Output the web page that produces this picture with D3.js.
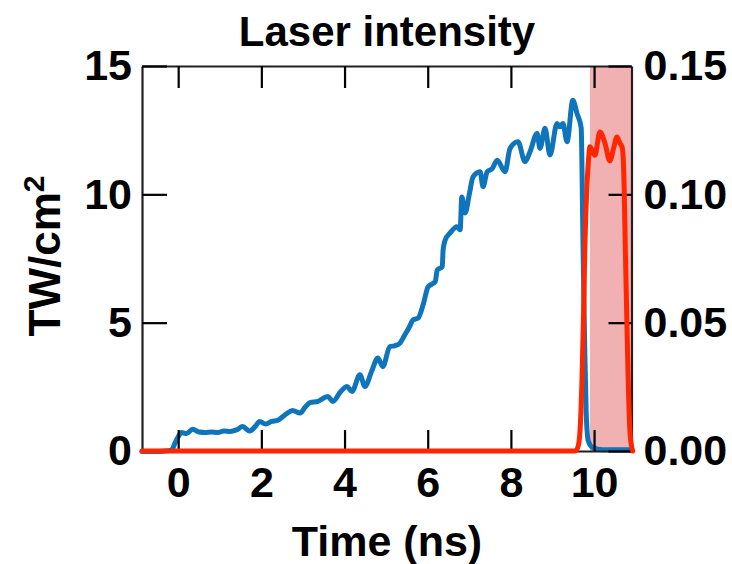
<!DOCTYPE html>
<html>
<head>
<meta charset="utf-8">
<script src="https://cdn.jsdelivr.net/npm/d3@7"></script>
<style>
  html, body { margin: 0; padding: 0; background: #fff; }
  svg { display: block; font-family: "Liberation Sans", Arial, Helvetica, sans-serif; font-weight: bold; }
</style>
</head>
<body>
<svg id="chart" width="732" height="564"></svg>
<script>
// Laser pulse intensity (TW/cm^2, left axis) versus time in ns
const blueT = [-0.87, -0.6, -0.3, -0.15, -0.08, 0.0, 0.08, 0.2, 0.35, 0.5, 0.65, 0.8, 0.95, 1.1, 1.25, 1.4, 1.55, 1.72, 1.85, 1.96,
  2.1, 2.25, 2.4, 2.6, 2.75, 2.93, 3.05, 3.17, 3.36, 3.48, 3.6, 3.72, 3.9, 4.06, 4.18, 4.37, 4.49, 4.65, 4.8, 4.92,
  5.09, 5.2, 5.33, 5.45, 5.55, 5.65, 5.77, 5.9, 6.01, 6.1, 6.18, 6.23, 6.35, 6.37, 6.42, 6.54, 6.7, 6.78, 6.82, 6.9,
  7.0, 7.09, 7.26, 7.33, 7.43, 7.55, 7.67, 7.86, 7.98, 8.17, 8.34, 8.46, 8.63, 8.7, 8.82, 8.94, 9.11, 9.18, 9.25, 9.35,
  9.49, 9.59, 9.69, 9.73, 9.77, 9.81, 9.86, 9.97, 10.2, 10.5, 10.9];
const blueV = [-0.02, -0.02, 0.0, 0.05, 0.3, 0.55, 0.72, 0.68, 0.85, 0.74, 0.72, 0.74, 0.72, 0.78, 0.76, 0.82, 0.95, 0.78, 0.95, 1.15,
  1.05, 1.15, 1.2, 1.45, 1.58, 1.48, 1.7, 1.88, 1.93, 2.05, 2.12, 1.93, 2.3, 2.51, 2.32, 2.97, 2.51, 3.1, 3.62, 3.29,
  4.07, 4.1, 4.2, 4.53, 4.8, 5.11, 5.18, 5.76, 6.4, 6.5, 6.6, 7.05, 7.18, 7.83, 8.22, 8.5, 8.74, 8.62, 9.9, 9.27,
  10.0, 10.68, 10.88, 10.3, 10.88, 11.0, 11.33, 10.88, 11.79, 12.05, 11.27, 11.66, 12.37, 11.79, 12.57, 11.53, 12.76, 12.63, 12.76, 12.05,
  13.67, 13.15, 12.6, 8.5, 4.5, 1.5, 0.4, 0.13, 0.05, 0.05, 0.05];

// Second pulse (right axis) versus time in ns
const redT = [-0.87, 1.0, 3.0, 5.0, 7.0, 9.0, 9.55, 9.62, 9.67, 9.71, 9.75, 9.78, 9.82, 9.86, 9.9, 10.02, 10.14, 10.26, 10.38,
  10.47, 10.55, 10.62, 10.68, 10.72, 10.75, 10.79, 10.82, 10.87, 10.93];
const redV = [0, 0, 0, 0, 0, 0, 0, 0.002, 0.01, 0.028, 0.055, 0.08, 0.1, 0.112, 0.1185, 0.1152, 0.1243, 0.12, 0.113,
  0.118, 0.1223, 0.12, 0.118, 0.105, 0.08, 0.05, 0.028, 0.006, 0];

// Shaded time window (ns)
const bandRange = [9.9, 10.9];

// Axis ticks
const xTicks = [0, 2, 4, 6, 8, 10];
const yLeftTicks = [0, 5, 10, 15];
const yRightTicks = [0, 0.05, 0.10, 0.15];

const svg = d3.select("#chart");

const x = d3.scaleLinear().domain([-0.87, 10.9]).range([142, 631.5]);
const yL = d3.scaleLinear().domain([0, 15]).range([451, 66]);
const yR = d3.scaleLinear().domain([0, 0.15]).range([451, 66]);

const blue = blueT.map((t, i) => [t, blueV[i]]);
const red = redT.map((t, i) => [t, redV[i]]);

// shaded window
svg.append("rect")
  .attr("x", x(bandRange[0]))
  .attr("y", yL(15))
  .attr("width", x(bandRange[1]) - x(bandRange[0]))
  .attr("height", yL(0) - yL(15))
  .attr("fill", "#f1b0b1");

// main pulse
svg.append("path")
  .datum(blue)
  .attr("fill", "none")
  .attr("stroke", "#0e74bb")
  .attr("stroke-width", 5)
  .attr("stroke-linejoin", "round")
  .attr("stroke-linecap", "round")
  .attr("d", d3.line().x(d => x(d[0])).y(d => yL(d[1])).curve(d3.curveMonotoneX));

// axes
const fontSize = 43;
function styleAxis(g) {
  g.selectAll(".domain").attr("stroke", "#231f20").attr("stroke-width", 2.2);
  g.selectAll(".tick line").attr("stroke", "#000").attr("stroke-width", 2.2);
  g.selectAll(".tick text")
    .attr("font-size", fontSize)
    .attr("font-weight", "bold")
    .attr("font-family", '"Liberation Sans", Arial, sans-serif')
    .attr("fill", "#000");
}

svg.append("g")
  .attr("transform", `translate(0,${yL(0)})`)
  .call(d3.axisBottom(x).tickValues(xTicks).tickSize(-21).tickSizeOuter(0).tickPadding(15).tickFormat(d3.format("d")))
  .call(styleAxis);

svg.append("g")
  .attr("transform", `translate(0,${yL(15)})`)
  .call(d3.axisTop(x).tickValues(xTicks).tickSize(-22).tickSizeOuter(0).tickFormat(""))
  .call(styleAxis);

svg.append("g")
  .attr("transform", `translate(${x(-0.87)},0)`)
  .call(d3.axisLeft(yL).tickValues(yLeftTicks).tickSize(-25).tickSizeOuter(0).tickPadding(10).tickFormat(d3.format("d")))
  .call(styleAxis);

svg.append("g")
  .attr("transform", `translate(${x(10.9)},0)`)
  .call(d3.axisRight(yR).tickValues(yRightTicks).tickSize(-23).tickSizeOuter(0).tickPadding(12).tickFormat(d3.format(".2f")))
  .call(styleAxis);

// second pulse
svg.append("path")
  .datum(red)
  .attr("fill", "none")
  .attr("stroke", "#ff2600")
  .attr("stroke-width", 5)
  .attr("stroke-linejoin", "round")
  .attr("stroke-linecap", "round")
  .attr("d", d3.line().x(d => x(d[0])).y(d => yR(d[1])).curve(d3.curveMonotoneX));

// titles
svg.append("text")
  .attr("x", 387).attr("y", 46)
  .attr("text-anchor", "middle")
  .attr("font-size", 42)
  .text("Laser intensity");

svg.append("text")
  .attr("x", 387).attr("y", 556)
  .attr("text-anchor", "middle")
  .attr("font-size", 43)
  .text("Time (ns)");

const yl = svg.append("text")
  .attr("transform", "translate(60,256) rotate(-90)")
  .attr("text-anchor", "middle")
  .attr("font-size", 44);
yl.append("tspan").text("TW/cm");
yl.append("tspan").attr("font-size", 30).attr("dy", -16).text("2");
</script>
</body>
</html>
